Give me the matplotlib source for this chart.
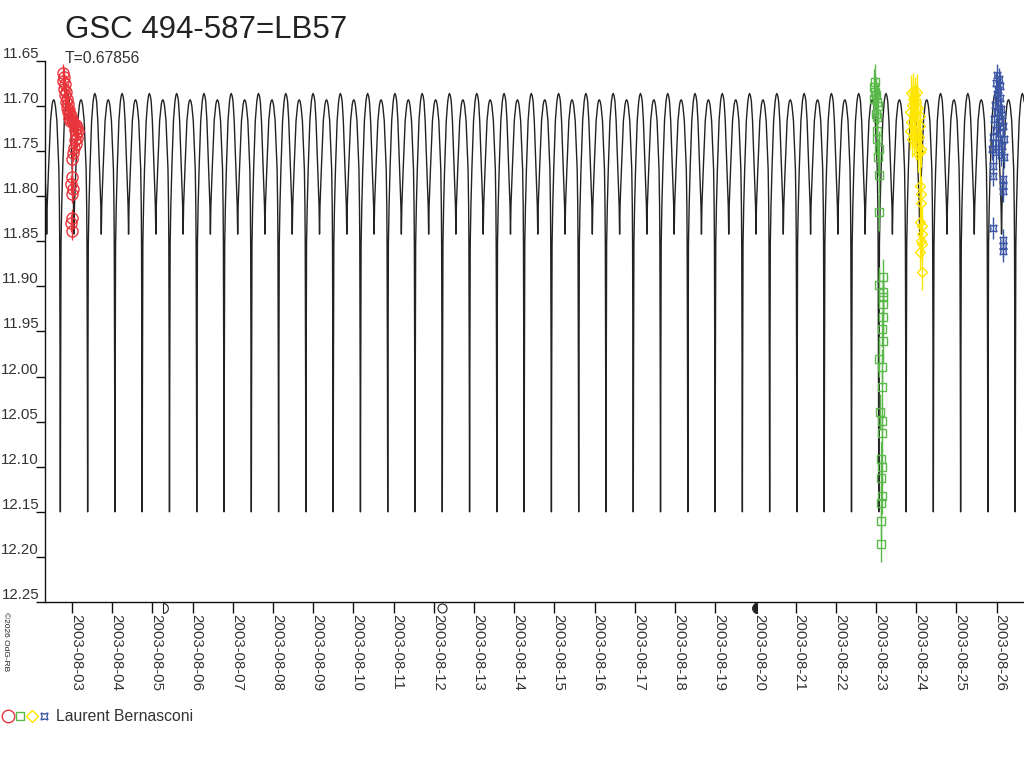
import numpy as np
import matplotlib
matplotlib.use("Agg")
import matplotlib.pyplot as plt
import matplotlib.dates as mdates
from matplotlib.lines import Line2D
from matplotlib.legend_handler import HandlerTuple
from matplotlib.path import Path
from datetime import datetime

plt.rcParams['font.family'] = ['Liberation Sans', 'DejaVu Sans']

TITLE = "GSC 494-587=LB57"
PERIOD = 0.67856
EPOCH_DAY = 8.818          # a primary minimum, day of August 2003
OBSERVER = "Laurent Bernasconi"
COPYRIGHT = "\u00a92026 OdG-RB"

# ----- one cycle of the model light curve (phase, mag) -----
tmpl_phase = [0.000, 0.010, 0.024, 0.050, 0.085, 0.146, 0.200, 0.235, 0.265,
              0.300, 0.330, 0.372, 0.433, 0.482, 0.500, 0.518, 0.567, 0.640,
              0.700, 0.730, 0.760, 0.790, 0.820, 0.872, 0.945, 0.965, 0.976,
              0.990, 1.000]
tmpl_mag = [12.150, 12.000, 11.853, 11.810, 11.770, 11.716, 11.695, 11.688, 11.686,
            11.689, 11.695, 11.716, 11.770, 11.810, 11.842, 11.810, 11.770, 11.716,
            11.698, 11.694, 11.693, 11.695, 11.700, 11.716, 11.770, 11.810, 11.853,
            12.000, 12.150]

# ----- observations (day of August 2003, magnitude) -----
red_day = [2.776, 2.801, 2.776, 2.826, 2.801, 2.851, 2.826, 2.876, 2.851, 2.900,
           2.876, 2.925, 2.900, 2.950, 2.975, 2.925, 3.000, 2.950, 3.025, 3.050,
           3.100, 3.124, 3.075, 3.149, 3.100, 3.124, 3.075, 3.100, 3.050, 3.025,
           3.000, 3.000, 2.975, 3.025, 3.000, 3.000, 2.975, 3.000]
red_mag = [11.663, 11.668, 11.672, 11.676, 11.681, 11.684, 11.688, 11.692, 11.695, 11.698,
           11.702, 11.704, 11.707, 11.709, 11.711, 11.713, 11.715, 11.717, 11.718, 11.720,
           11.721, 11.724, 11.726, 11.728, 11.731, 11.735, 11.738, 11.742, 11.746, 11.752,
           11.759, 11.779, 11.786, 11.792, 11.798, 11.824, 11.830, 11.838]

green_day = [22.975, 22.950, 22.975, 23.000, 22.950, 23.025, 23.050, 23.000, 23.025,
             23.025, 23.025, 23.075, 23.050, 23.075, 23.075, 23.174, 23.075, 23.174,
             23.174, 23.174, 23.174, 23.149, 23.174, 23.075, 23.149, 23.149, 23.100,
             23.149, 23.149, 23.124, 23.149, 23.124, 23.149, 23.124, 23.124, 23.124]
green_mag = [11.673, 11.679, 11.684, 11.688, 11.692, 11.696, 11.700, 11.709, 11.712,
             11.728, 11.737, 11.748, 11.757, 11.776, 11.818, 11.890, 11.898, 11.906,
             11.912, 11.919, 11.934, 11.947, 11.961, 11.980, 11.989, 12.012, 12.039,
             12.049, 12.063, 12.091, 12.100, 12.112, 12.132, 12.140, 12.160, 12.186]

yellow_day = [23.920, 23.871, 24.020, 23.970, 23.920, 23.995, 23.896, 24.045, 23.846,
              23.945, 24.095, 23.871, 23.970, 24.095, 23.846, 23.945, 24.070, 23.896,
              23.995, 24.045, 24.119, 24.045, 24.095, 24.095, 24.119, 24.119, 24.095,
              24.144, 24.144, 24.119, 24.144, 24.095, 24.144]
yellow_mag = [11.683, 11.686, 11.684, 11.688, 11.692, 11.695, 11.699, 11.702, 11.707,
              11.709, 11.711, 11.718, 11.720, 11.722, 11.728, 11.731, 11.734, 11.737,
              11.740, 11.744, 11.748, 11.753, 11.751, 11.789, 11.798, 11.808, 11.829,
              11.833, 11.842, 11.850, 11.853, 11.862, 11.884]

blue_day = [26.010, 26.060, 25.985, 26.085, 26.035, 26.010, 26.085, 26.035, 25.960,
            26.109, 26.010, 26.134, 25.935, 26.060, 26.159, 25.985, 26.085, 25.910,
            26.184, 26.035, 26.134, 25.886, 25.985, 26.109, 26.184, 25.910, 25.910,
            26.159, 26.159, 26.159, 25.910, 26.159, 26.159, 26.159]
blue_mag = [11.665, 11.670, 11.674, 11.678, 11.682, 11.687, 11.691, 11.695, 11.699,
            11.703, 11.707, 11.710, 11.714, 11.718, 11.722, 11.726, 11.730, 11.734,
            11.737, 11.741, 11.744, 11.748, 11.751, 11.754, 11.757, 11.766, 11.777,
            11.781, 11.789, 11.794, 11.835, 11.848, 11.855, 11.861]

# moon phases: first quarter, full, last quarter (day of August 2003)
moon_day = [5.26, 12.20, 20.04]

BASE = mdates.date2num(datetime(2003, 7, 31))


def to_num(days):
    return BASE + np.asarray(days, dtype=float)


fig = plt.figure(figsize=(10.24, 7.68), dpi=100)
ax = fig.add_axes([45 / 1024, 1 - 602 / 768, 1 - 45 / 1024, (602 - 61) / 768])

# model curve, template repeated each period
cycles = np.arange(-10, 28)
model_t = np.concatenate([EPOCH_DAY + (n + np.asarray(tmpl_phase)) * PERIOD for n in cycles])
model_m = np.tile(tmpl_mag, len(cycles))
ax.plot(to_num(model_t), model_m, color="#222222", lw=1.0, zorder=2)

# observations
series = [
    (red_day, red_mag, "o", "#E8353C", 8.0, 0.010),
    (green_day, green_mag, "s", "#5BB84A", 5.5, 0.020),
    (yellow_day, yellow_mag, "D", "#FFE600", 5.5, 0.020),
    (blue_day, blue_mag, (4, 1, 45), "#3A55A4", 7.0, 0.012),
]
for d, m, mk, col, ms, err in series:
    ax.errorbar(to_num(d), m, yerr=err, fmt="none", ecolor=col, elinewidth=1.0, capsize=0, zorder=3)
    ax.plot(to_num(d), m, ls="none", marker=mk, ms=ms, mfc="none", mec=col, mew=1.0, zorder=4)

ax.set_xlim(BASE + 2.329, BASE + 26.68)
ax.set_ylim(12.25, 11.65)

ax.set_yticks(np.round(np.arange(11.65, 12.2501, 0.05), 2))
ax.yaxis.set_major_formatter(plt.FormatStrFormatter("%.2f"))
ax.xaxis.set_major_locator(mdates.DayLocator())
ax.xaxis.set_major_formatter(mdates.DateFormatter("%Y-%m-%d"))

for s in ["top", "right"]:
    ax.spines[s].set_visible(False)
for s in ["left", "bottom"]:
    ax.spines[s].set_color("#111111")
    ax.spines[s].set_linewidth(1.0)

ax.tick_params(axis="y", direction="out", length=6.5, width=1, pad=-2.2,
               labelsize=10.8, labelcolor="#333333", color="#111111")
ax.tick_params(axis="x", direction="out", length=8, width=1, pad=1,
               labelsize=10.8, labelcolor="#333333", color="#111111", labelrotation=270)
for lab in ax.get_yticklabels():
    lab.set_verticalalignment("bottom")
for lab in ax.get_xticklabels():
    lab.set_rotation_mode("anchor")
    lab.set_horizontalalignment("left")
    lab.set_verticalalignment("baseline")

# moon phase symbols under the axis
th = np.linspace(-90, 90, 25)
right_half = Path(np.vstack([np.column_stack([np.cos(np.radians(th)), np.sin(np.radians(th))]), [[0, -1]]]))
th2 = np.linspace(90, 270, 25)
left_half = Path(np.vstack([np.column_stack([np.cos(np.radians(th2)), np.sin(np.radians(th2))]), [[0, 1]]]))
xt = ax.get_xaxis_transform()
moon_y = -0.011
ax.plot(to_num(moon_day[:1]), [moon_y], transform=xt, clip_on=False, ls="none",
        marker=right_half, ms=7, mfc="none", mec="#222222", mew=0.8)
ax.plot(to_num(moon_day[1:2]), [moon_y], transform=xt, clip_on=False, ls="none",
        marker="o", ms=6.5, mfc="none", mec="#222222", mew=0.8)
ax.plot(to_num(moon_day[2:]), [moon_y], transform=xt, clip_on=False, ls="none",
        marker=left_half, ms=7, mfc="#222222", mec="#222222", mew=0.8)

# texts
fig.text(65 / 1024, 1 - 38 / 768, TITLE, fontsize=22.5, color="#222222", va="baseline", ha="left")
fig.text(65 / 1024, 1 - 63 / 768, "T=%.5f" % PERIOD, fontsize=11.3, color="#333333", va="baseline", ha="left")
fig.text(0.002, 1 - 612 / 768, COPYRIGHT, fontsize=6, color="#222222", rotation=270, va="top", ha="left")

# legend
handles = (
    Line2D([], [], ls="none", marker="o", ms=9, mfc="none", mec="#E8353C", mew=1.0),
    Line2D([], [], ls="none", marker="s", ms=6, mfc="none", mec="#5BB84A", mew=1.0),
    Line2D([], [], ls="none", marker="D", ms=6, mfc="none", mec="#FFE600", mew=1.0),
    Line2D([], [], ls="none", marker=(4, 1, 45), ms=7, mfc="none", mec="#3A55A4", mew=1.0),
)
fig.legend(handles=[handles], labels=[OBSERVER],
           handler_map={tuple: HandlerTuple(ndivide=None, pad=0.15)},
           loc="lower left", bbox_to_anchor=(0.003, 1 - 724 / 768), frameon=False,
           fontsize=11.3, handlelength=2.9, handletextpad=0.45, borderpad=0, borderaxespad=0,
           labelcolor="#333333")

fig.savefig("out.png", dpi=100)
